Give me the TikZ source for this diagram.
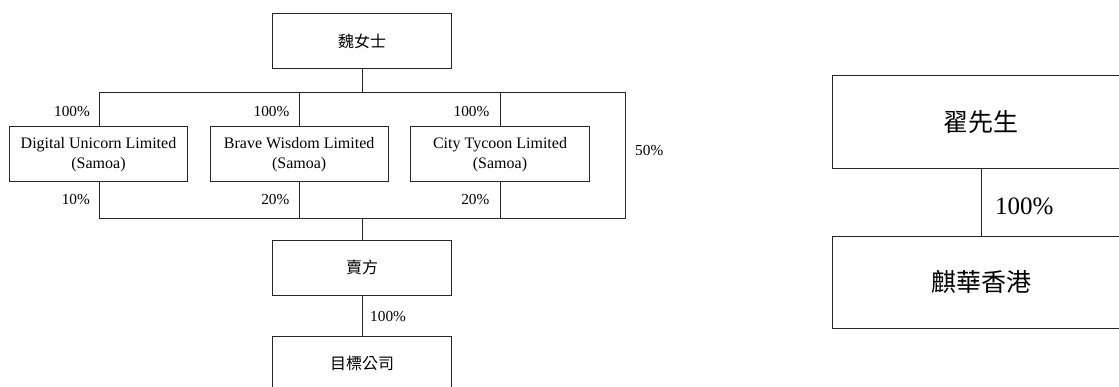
\documentclass[tikz,border=0pt]{standalone}
\usepackage{fontspec}
\setmainfont{Liberation Serif}
\newfontfamily\cjk{Noto Sans CJK TC}
\begin{document}
\begin{tikzpicture}[x=1pt,y=-1pt,
  line/.style={draw=black!85,line width=0.9pt},
  sbox/.style={line,minimum width=178.3pt,minimum height=55pt,inner sep=0pt,align=center,font=\fontsize{16}{20}\selectfont},
  bbox/.style={line,minimum width=297.4pt,minimum height=92.5pt,inner sep=0pt,font=\fontsize{25}{30}\selectfont},
  pct/.style={inner sep=0pt,font=\fontsize{15.3}{20}\selectfont},
  bpct/.style={inner sep=0pt,font=\fontsize{25}{30}\selectfont}]
\useasboundingbox (0,0) rectangle (1119,386);
\clip (0,0) rectangle (1119,386);
% left chart
\node[sbox] (wei) at (362,41.3) {\cjk 魏女士};
\node[sbox] (du) at (98.5,154.2) {Digital Unicorn Limited\\(Samoa)};
\node[sbox] (bw) at (299.2,154.2) {Brave Wisdom Limited\\(Samoa)};
\node[sbox] (ct) at (500,154.2) {City Tycoon Limited\\(Samoa)};
\node[sbox] (seller) at (362,267.5) {\cjk 賣方};
\node[sbox] (target) at (362,363.5) {\cjk 目標公司};
\coordinate (tl) at (99,92.5);
\coordinate (tr) at (625,92.5);
\coordinate (bl) at (99,218);
\coordinate (br) at (625,218);
\draw[line] (wei.south) -- (wei.south |- tl);
\draw[line] (du.north -| tl) -- (tl) -- (tr) -- (br) -- (bl) -- (du.south -| bl);
\draw[line] (bw.north) -- (bw.north |- tl);
\draw[line] (ct.north) -- (ct.north |- tl);
\draw[line] (bw.south) -- (bw.south |- bl);
\draw[line] (ct.south) -- (ct.south |- bl);
\draw[line] (seller.north) -- (seller.north |- bl);
\draw[line] (seller.south) -- (target.north);
\node[pct,anchor=east] (l1) at (90,111.7) {100\%};
\node[pct,anchor=east] (l2) at (289.5,111.7) {100\%};
\node[pct,anchor=east] (l3) at (489.5,111.7) {100\%};
\node[pct,anchor=east] (l4) at (90,199.3) {10\%};
\node[pct,anchor=east] (l5) at (289.5,199.3) {20\%};
\node[pct,anchor=east] (l6) at (489.5,199.3) {20\%};
\node[pct,anchor=west] (l7) at (635,151) {50\%};
\node[pct,anchor=west] (l8) at (370,316.7) {100\%};
% right chart
\node[bbox] (zhai) at (981,122) {\cjk 翟先生};
\node[bbox] (qh) at (981,282.2) {\cjk 麒華香港};
\draw[line] (zhai.south) -- (qh.north);
\node[bpct,anchor=west] (r1) at (995,206) {100\%};
\end{tikzpicture}
\end{document}
